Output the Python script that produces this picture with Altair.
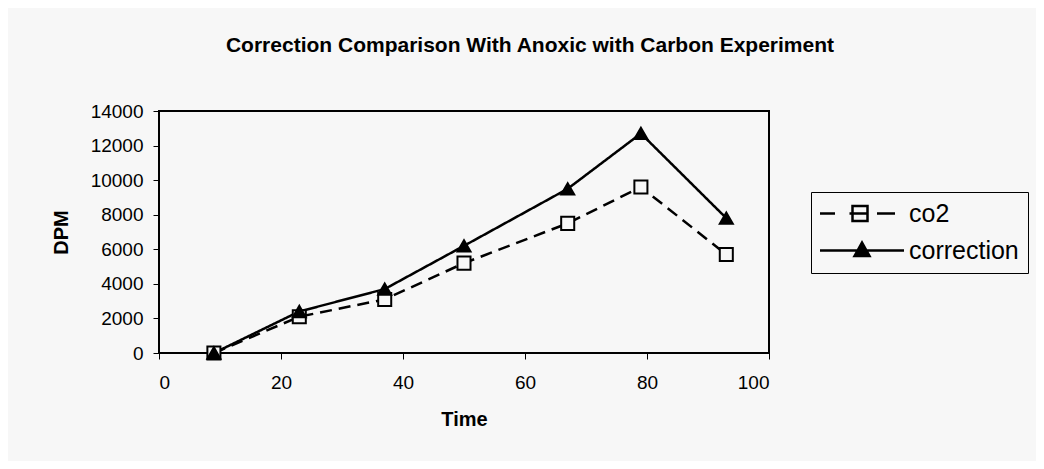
import altair as alt
import pandas as pd

# ---- data ----
time = [9, 23, 37, 50, 67, 79, 93]
co2 = [0, 2100, 3100, 5200, 7500, 9600, 5700]
correction = [0, 2400, 3700, 6200, 9500, 12700, 7800]
series = ["co2", "correction"]
x_ticks = [0, 20, 40, 60, 80, 100]
y_ticks = [0, 2000, 4000, 6000, 8000, 10000, 12000, 14000]

rows = []
for name, vals in zip(series, [co2, correction]):
    for t, v in zip(time, vals):
        rows.append({"Time": t, "DPM": v, "series": name})
df = pd.DataFrame(rows)

BG = "#f7f7f7"
FONT = "Liberation Sans"

# legend symbols: line + marker drawn as one custom symbol path
legend_paths = [
    "M-1.25,0H0.25M1.7,0H2.0M2.0,-0.75H3.5V0.75H2.0ZM2.0,0H3.5M4.45,0H6.25",
    "M-1.25,0H7.15M2.2,0.55L2.95,-0.8L3.7,0.55Z",
]

legend = alt.Legend(
    title=None, orient="none", legendX=652, legendY=81,
    padding=9, rowPadding=10, symbolSize=400, symbolStrokeWidth=2.5,
    symbolStrokeColor="black", symbolOpacity=1, symbolOffset=0,
    labelFont=FONT, labelFontSize=25, labelColor="black", labelOffset=64,
    strokeColor="black", fillColor=BG,
)

x_axis = alt.Axis(values=x_ticks, title="Time", grid=False, domain=False,
                  tickSize=6, tickColor="black", labelFontSize=19,
                  labelPadding=14, titleFontSize=20, titlePadding=17,
                  labelOverlap=False)
y_axis = alt.Axis(values=y_ticks, title="DPM", format="d", grid=False,
                  domain=False, tickSize=6, tickColor="black",
                  labelFontSize=19, labelPadding=10, titleFontSize=20,
                  titlePadding=19, labelOverlap=False)
x_scale = alt.Scale(domain=[0, 100], nice=False)
y_scale = alt.Scale(domain=[0, 14000], nice=False)


def xe():
    return alt.X("Time:Q", scale=x_scale, axis=x_axis)


def ye():
    return alt.Y("DPM:Q", scale=y_scale, axis=y_axis)


base = alt.Chart(df)

lines = base.mark_line(color="black", strokeWidth=2.5).encode(
    x=xe(), y=ye(),
    strokeDash=alt.StrokeDash("series:N", scale=alt.Scale(domain=series, range=[[12, 7], [1, 0]]), legend=None),
    detail="series:N",
)

points = base.mark_point(filled=True, stroke="black", strokeWidth=2, size=170, opacity=1).encode(
    x=xe(), y=ye(),
    shape=alt.Shape("series:N", scale=alt.Scale(domain=series, range=["square", "triangle-up"]), legend=None),
    fill=alt.Fill("series:N", scale=alt.Scale(domain=series, range=[BG, "black"]), legend=None),
)

legend_layer = base.mark_point(filled=True, strokeWidth=2.5, opacity=0).encode(
    x=xe(), y=ye(),
    shape=alt.Shape("series:N", scale=alt.Scale(domain=series, range=legend_paths), legend=legend),
    fill=alt.Fill("series:N", scale=alt.Scale(domain=series, range=[BG, "black"]), legend=legend),
    stroke=alt.Stroke("series:N", scale=alt.Scale(domain=series, range=["black", "black"]), legend=legend),
)

chart = alt.layer(lines, points, legend_layer).resolve_scale(
    shape="independent", fill="independent", stroke="independent"
).properties(
    width=610, height=242,
    title=alt.TitleParams("Correction Comparison With Anoxic with Carbon Experiment",
                          font=FONT, fontSize=21, fontWeight="bold", color="black",
                          anchor="middle", dx=66, offset=46),
    autosize=alt.AutoSizeParams(type="none"),
    padding={"left": 151, "top": 103, "right": 267, "bottom": 108},
    background=BG,
).configure_view(
    stroke="black", strokeWidth=2, fill=BG
).configure_axis(
    labelFont=FONT, titleFont=FONT, labelColor="black", titleColor="black",
    titleFontWeight="bold", labelOverlap=False
).configure_axisY(
    labelOverlap=False
)

chart.save("out.html", embed_options={"renderer": "svg", "actions": False})
